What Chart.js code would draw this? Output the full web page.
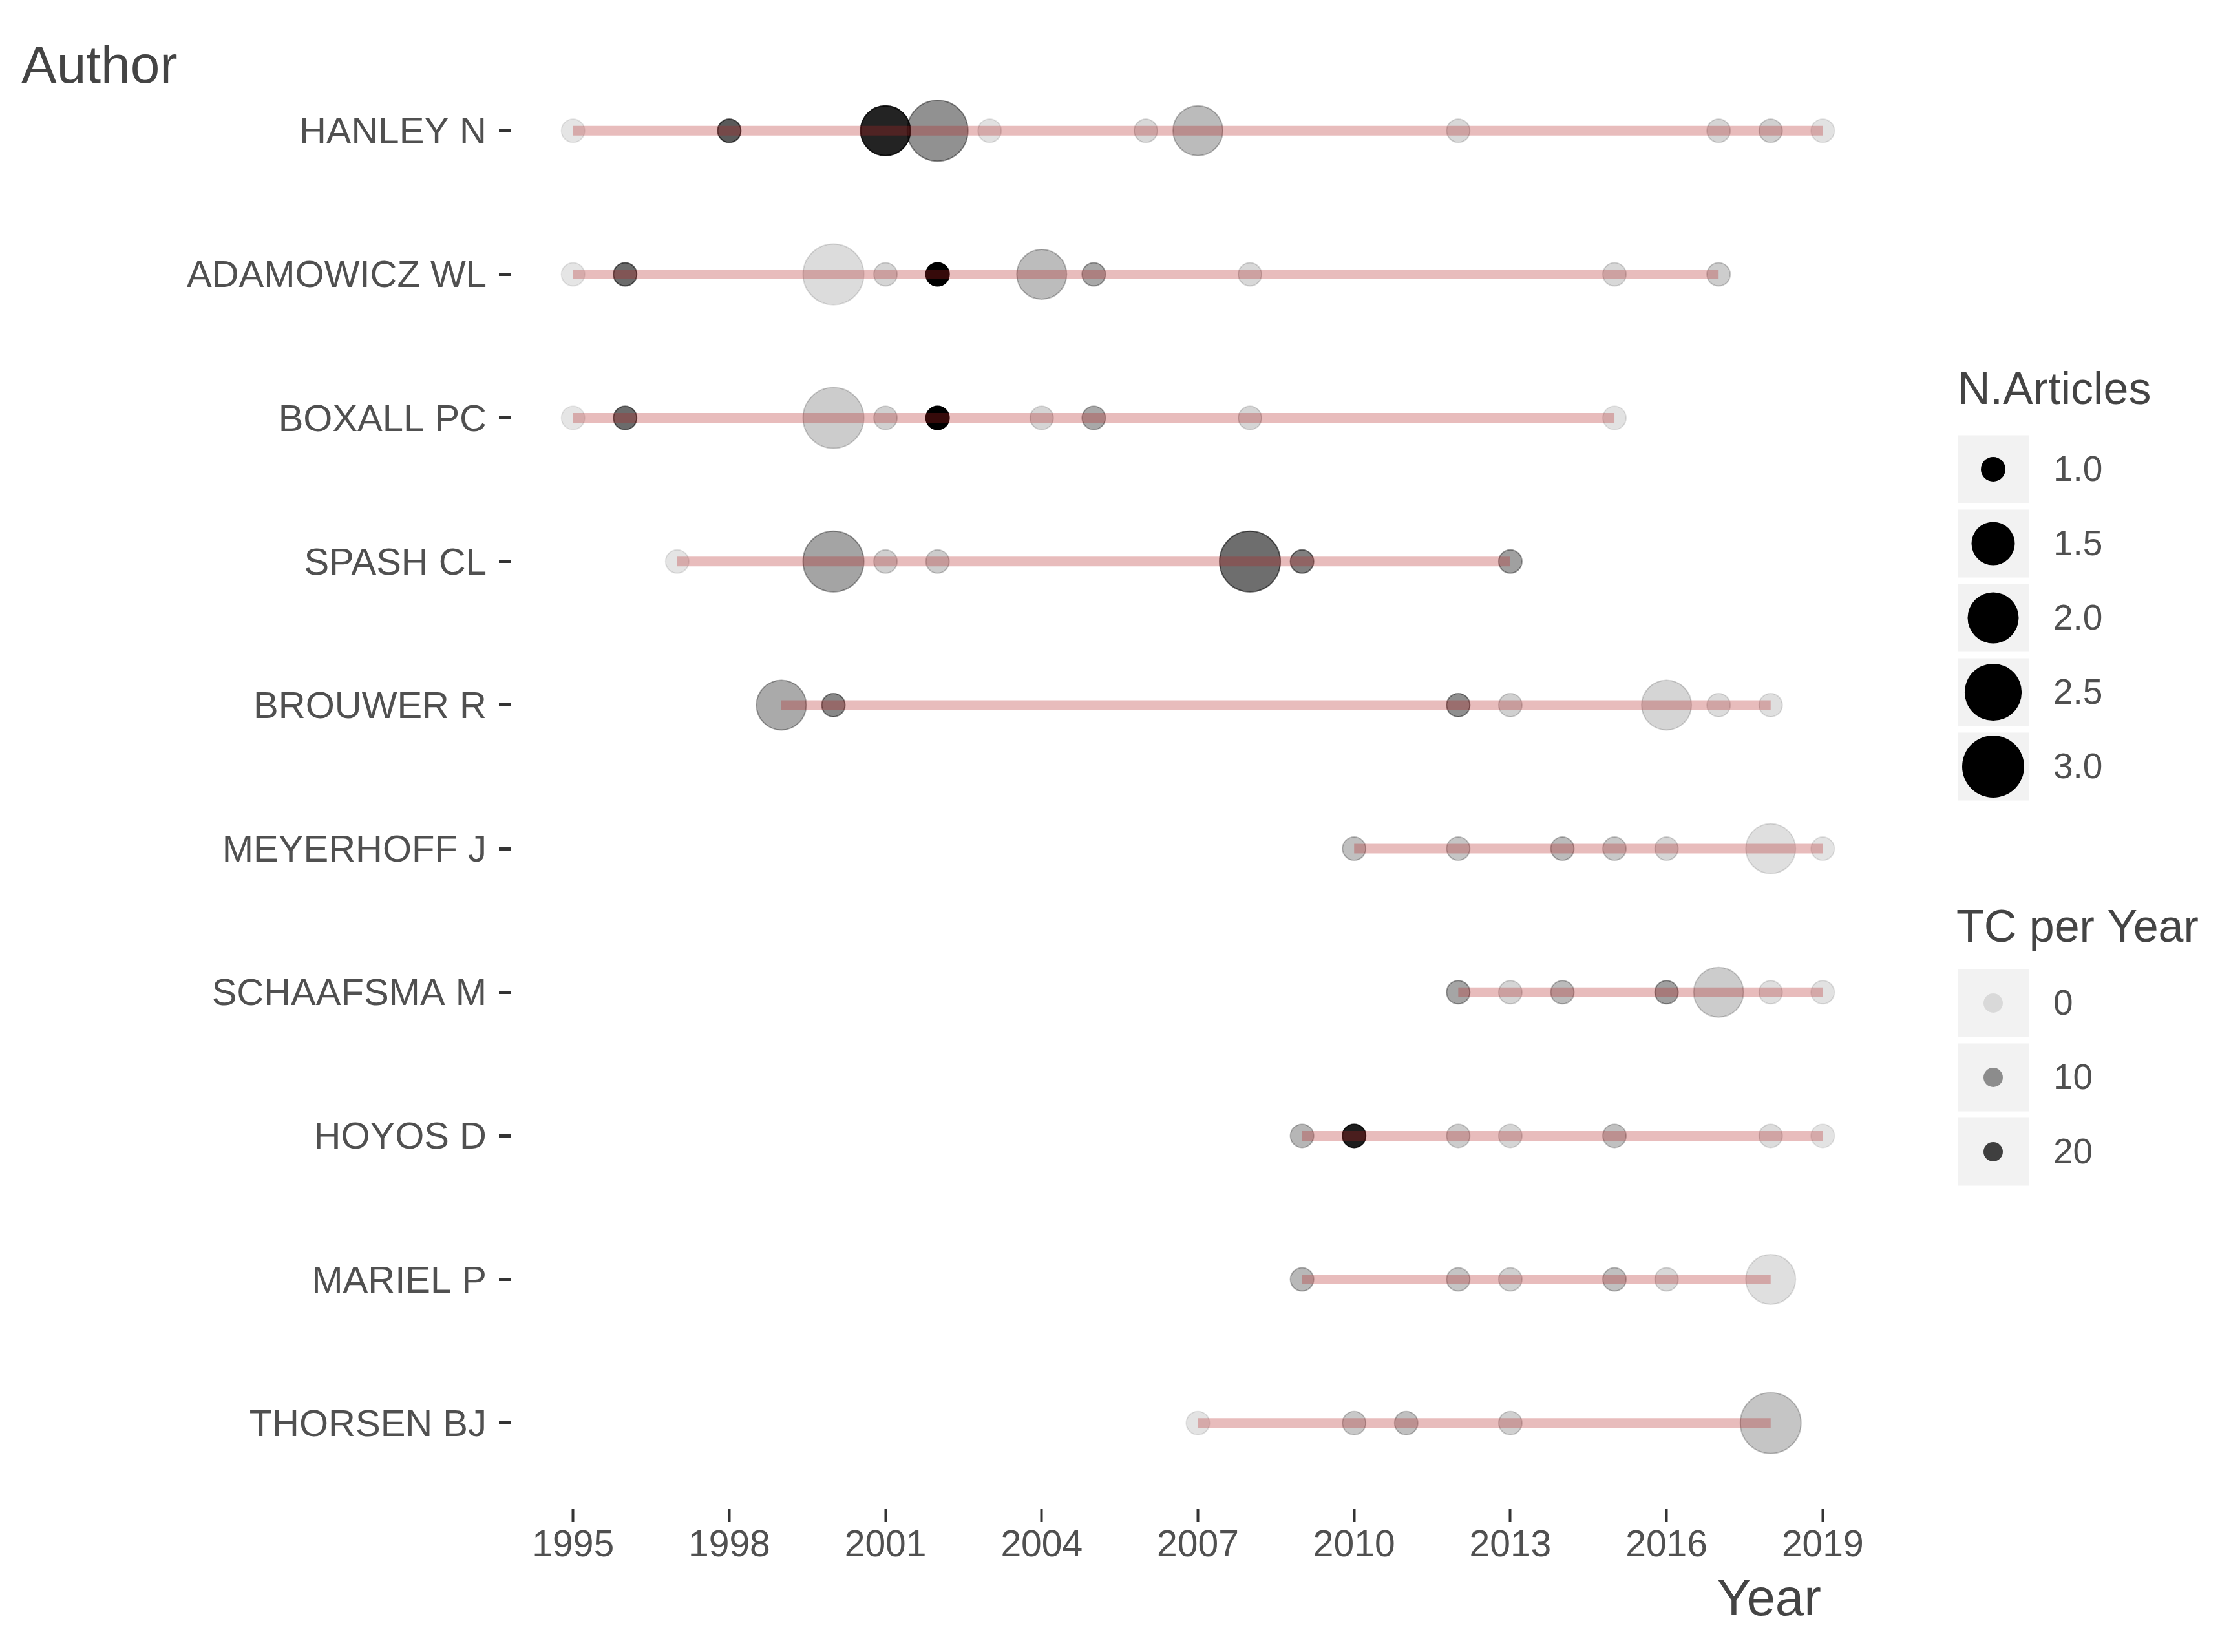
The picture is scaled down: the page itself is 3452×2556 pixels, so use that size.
<!DOCTYPE html>
<html>
<head>
<meta charset="utf-8">
<title>Authors' production over time</title>
<script src="https://cdn.jsdelivr.net/npm/chart.js@4.4.1/dist/chart.umd.min.js"></script>
<style>
    html, body { margin: 0; padding: 0; background: #fff; }
    #wrap { width: 3452px; height: 2556px; }
</style>
</head>
<body>
<div id="wrap"><canvas id="chartAuthors" width="3452" height="2556"></canvas></div>
<script>
// Data
const authors = ['HANLEY N', 'ADAMOWICZ WL', 'BOXALL PC', 'SPASH CL', 'BROUWER R',
    'MEYERHOFF J', 'SCHAAFSMA M', 'HOYOS D', 'MARIEL P', 'THORSEN BJ'];

const pubYears = [
    [1995, 1998, 2001, 2002, 2003, 2006, 2007, 2012, 2017, 2018, 2019],
    [1995, 1996, 2000, 2001, 2002, 2004, 2005, 2008, 2015, 2017],
    [1995, 1996, 2000, 2001, 2002, 2004, 2005, 2008, 2015],
    [1997, 2000, 2001, 2002, 2008, 2009, 2013],
    [1999, 2000, 2012, 2013, 2016, 2017, 2018],
    [2010, 2012, 2014, 2015, 2016, 2018, 2019],
    [2012, 2013, 2014, 2016, 2017, 2018, 2019],
    [2009, 2010, 2012, 2013, 2015, 2018, 2019],
    [2009, 2012, 2013, 2015, 2016, 2018],
    [2007, 2010, 2011, 2013, 2018]
];

const nArticles = [
    [1, 1, 2, 3, 1, 1, 2, 1, 1, 1, 1],
    [1, 1, 3, 1, 1, 2, 1, 1, 1, 1],
    [1, 1, 3, 1, 1, 1, 1, 1, 1],
    [1, 3, 1, 1, 3, 1, 1],
    [2, 1, 1, 1, 2, 1, 1],
    [1, 1, 1, 1, 1, 2, 1],
    [1, 1, 1, 1, 2, 1, 1],
    [1, 1, 1, 1, 1, 1, 1],
    [1, 1, 1, 1, 1, 2],
    [1, 1, 1, 1, 3]
];

const tcPerYear = [
    [0, 17, 23.7, 10.3, 0.6, 1.6, 5.2, 1.6, 2, 2.6, 0.4],
    [0, 15, 1.2, 2, 28, 5, 7.5, 1.6, 1.6, 3],
    [0, 15, 3.1, 2.6, 28, 2, 7.5, 2, 0.4],
    [0.2, 8, 2.6, 3.1, 14.6, 12.4, 8.5],
    [7.3, 11.4, 10.6, 2.6, 2, 1.2, 0.8],
    [4.6, 4, 5.2, 3.6, 2, 0.8, 0.3],
    [7.8, 2, 5.2, 8.5, 3.1, 0.8, 0.4],
    [5.8, 24.5, 3.1, 2, 4.6, 1.2, 0.3],
    [5.5, 4, 2.6, 4.6, 1.6, 0.8],
    [0.3, 3.6, 4.6, 2.6, 4]
];

const xTicks = [1995, 1998, 2001, 2004, 2007, 2010, 2013, 2016, 2019];
const sizeBreaks = [1.0, 1.5, 2.0, 2.5, 3.0];
const tcBreaks = [0, 10, 20];

const FONT = "'Liberation Sans', Arial, Helvetica, sans-serif";
const TEXT = '#505050';

// size / alpha scales (area-proportional size, linear alpha 0.1..1 like ggplot)
const allN = nArticles.flat();
const allTc = tcPerYear.flat();
const nMin = Math.min(...allN), nMax = Math.max(...allN);
const tcMin = Math.min(...allTc), tcMax = Math.max(...allTc);
const R_MIN = 18, R_MAX = 47;

const sizeRadius = (n) => R_MIN + Math.sqrt((n - nMin) / (nMax - nMin)) * (R_MAX - R_MIN);
const tcAlpha = (tc) => 0.1 + 0.9 * (tc - tcMin) / (tcMax - tcMin);
const tcColor = (tc) => `rgba(0,0,0,${tcAlpha(tc).toFixed(3)})`;

const points = [];
authors.forEach((a, i) => {
    pubYears[i].forEach((yr, j) => {
        points.push({ x: yr, y: i, r: sizeRadius(nArticles[i][j]), tc: tcPerYear[i][j] });
    });
});

const lineSets = authors.map((a, i) => ({
    type: 'line',
    label: a,
    data: [
        { x: Math.min(...pubYears[i]), y: i },
        { x: Math.max(...pubYears[i]), y: i }
    ],
    borderColor: 'rgba(178,34,34,0.3)',
    borderWidth: 15,
    borderCapStyle: 'butt',
    pointRadius: 0,
    fill: false,
    order: 0
}));

// titles + legends drawn on top
const decor = {
    id: 'decor',
    afterDraw(chart) {
        const ctx = chart.ctx;
        ctx.save();
        ctx.textBaseline = 'alphabetic';
        ctx.textAlign = 'left';
        ctx.fillStyle = '#444';
        ctx.font = `82px ${FONT}`;
        ctx.fillText('Author', 33, 128);

        ctx.textAlign = 'right';
        ctx.font = `80px ${FONT}`;
        ctx.fillText('Year', 2818, 2499);

        // N.Articles legend
        ctx.textAlign = 'left';
        ctx.font = `70px ${FONT}`;
        ctx.fillText('N.Articles', 3029, 625);
        sizeBreaks.forEach((b, i) => {
            const cy = 726 + i * 115;
            ctx.fillStyle = '#f2f2f2';
            ctx.fillRect(3029, cy - 52.5, 110, 105);
            ctx.fillStyle = '#000';
            ctx.beginPath();
            ctx.arc(3084, cy, sizeRadius(b) + 1, 0, Math.PI * 2);
            ctx.fill();
            ctx.fillStyle = TEXT;
            ctx.font = `55px ${FONT}`;
            ctx.textBaseline = 'middle';
            ctx.fillText(b.toFixed(1), 3177, cy + 3);
            ctx.textBaseline = 'alphabetic';
        });

        // TC per Year legend
        ctx.fillStyle = '#444';
        ctx.font = `70px ${FONT}`;
        ctx.fillText('TC per Year', 3027, 1457);
        tcBreaks.forEach((b, i) => {
            const cy = 1552 + i * 115;
            ctx.fillStyle = '#f2f2f2';
            ctx.fillRect(3029, cy - 52.5, 110, 105);
            ctx.fillStyle = tcColor(b);
            ctx.beginPath();
            ctx.arc(3084, cy, 15, 0, Math.PI * 2);
            ctx.fill();
            ctx.fillStyle = TEXT;
            ctx.font = `55px ${FONT}`;
            ctx.textBaseline = 'middle';
            ctx.fillText(String(b), 3177, cy + 3);
            ctx.textBaseline = 'alphabetic';
        });
        ctx.restore();
    }
};

const ctxAuthors = document.getElementById('chartAuthors').getContext('2d');
new Chart(ctxAuthors, {
    type: 'bubble',
    data: {
        datasets: [
            ...lineSets,
            {
                type: 'bubble',
                label: 'articles',
                data: points,
                backgroundColor: (c) => tcColor(c.raw ? c.raw.tc : 0),
                borderColor: (c) => tcColor(c.raw ? c.raw.tc : 0),
                borderWidth: 2,
                order: 1
            }
        ]
    },
    options: {
        responsive: false,
        animation: false,
        events: [],
        layout: { padding: { left: 0, right: 535, top: 69, bottom: 0 } },
        plugins: {
            legend: { display: false },
            tooltip: { enabled: false }
        },
        scales: {
            x: {
                type: 'linear',
                min: 1993.8,
                max: 2020.2,
                afterBuildTicks: (s) => { s.ticks = xTicks.map(v => ({ value: v })); },
                afterFit: (s) => { s.height = 221; },
                border: { display: false },
                grid: { drawOnChartArea: false, drawTicks: true, tickLength: 20, tickColor: '#333', tickWidth: 4 },
                ticks: {
                    autoSkip: false, maxRotation: 0, padding: 3,
                    color: TEXT, font: { family: FONT, size: 57 },
                    callback: (v) => String(v)
                }
            },
            y: {
                type: 'linear',
                min: -0.6,
                max: authors.length - 1 + 0.6,
                reverse: true,
                afterBuildTicks: (s) => { s.ticks = authors.map((a, i) => ({ value: i })); },
                afterFit: (s) => { s.width = 790; },
                border: { display: false },
                grid: { drawOnChartArea: false, drawTicks: true, tickLength: 18, tickColor: '#333', tickWidth: 5 },
                ticks: {
                    autoSkip: false, padding: 19, labelOffset: 4,
                    color: TEXT, font: { family: FONT, size: 58 },
                    callback: (v) => authors[v]
                }
            }
        }
    },
    plugins: [decor]
});
</script>
</body>
</html>
